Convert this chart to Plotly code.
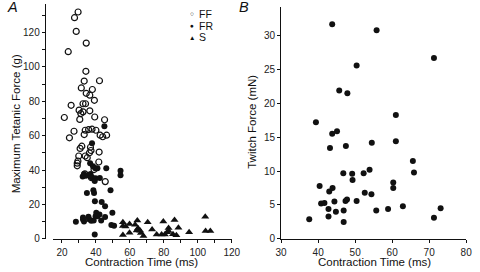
import plotly.graph_objects as go

# Panel A: contraction time (ms) vs maximum tetanic force (g)
ff_ct = [29.5, 27.4, 28.4, 23.7, 34.3, 34.1, 42.1, 33.1, 31.4, 37.9, 34.3, 36.4, 39.1, 25.4,
         32.4, 33.9, 30.1, 32.4, 31.1, 36.4, 21.4, 30.5, 39.3, 45.1, 27.1, 33.7, 35.7, 37.7,
         40.0, 33.1, 42.5, 44.0, 46.3, 24.4, 31.7, 30.7, 36.8, 37.1, 36.2, 41.9, 29.9, 33.7,
         34.9, 29.4, 29.0, 29.0, 41.7, 38.9, 33.5, 37.4, 45.5]
ff_force = [132.0, 128.7, 120.7, 108.9, 113.9, 97.5, 92.0, 91.8, 87.8, 86.9, 84.7, 83.6, 80.6, 77.7,
            78.6, 78.6, 74.9, 73.9, 72.9, 74.5, 70.6, 69.5, 70.9, 69.3, 62.6, 63.2, 63.6, 63.8,
            63.2, 60.7, 60.3, 59.4, 60.3, 58.8, 53.9, 52.6, 53.3, 51.4, 50.1, 50.5, 48.2, 48.2,
            47.2, 45.3, 44.0, 42.5, 44.7, 40.3, 37.8, 35.6, 33.3]

fr_ct = [45.0, 37.7, 36.6, 38.3, 39.6, 40.9, 46.1, 54.5, 54.5, 33.0, 34.1, 32.2, 36.8, 37.5,
         39.8, 39.3, 42.3, 34.7, 38.5, 38.9, 48.6, 39.4, 43.4, 45.4, 49.7, 40.2, 42.1, 28.2,
         32.4, 32.4, 33.0, 35.6, 36.0, 37.2, 38.7, 39.8, 40.8, 43.1, 45.4, 49.1, 50.7, 39.3]
fr_force = [65.5, 55.6, 44.0, 42.3, 41.1, 41.1, 41.1, 39.6, 37.0, 37.7, 36.7, 36.3, 37.7, 35.8,
            35.2, 33.7, 35.4, 26.6, 28.2, 26.6, 28.2, 21.9, 21.5, 19.0, 15.2, 15.2, 14.1, 9.9,
            12.4, 11.2, 10.1, 12.9, 11.4, 10.5, 10.6, 13.1, 13.1, 10.6, 12.7, 8.0, 7.6, 2.5]

s_ct = [55.9, 55.9, 55.9, 57.5, 59.8, 59.8, 63.1, 64.4, 64.8, 64.0, 66.1, 66.5, 68.0, 70.5,
        73.1, 75.8, 78.7, 79.7, 80.6, 81.9, 82.8, 82.8, 86.3, 85.4, 87.4, 88.6, 94.9, 104.4,
        104.6, 107.4]
s_force = [9.7, 7.4, 2.3, 7.2, 8.7, 3.6, 8.2, 10.6, 6.1, 4.9, 4.7, 3.4, 1.7, 9.7,
           5.5, 2.5, 2.5, 10.1, 2.5, 3.8, 6.3, 4.6, 10.9, 2.6, 2.1, 6.5, 3.8, 12.9,
           4.6, 4.6]

# Panel B: contraction time (ms) vs twitch force (mN)
b_ct = [43.8, 55.8, 71.3, 50.4, 45.7, 47.9, 39.4, 61.0, 45.1, 43.8, 43.2, 47.5, 54.5, 61.0,
        65.6, 65.9, 53.9, 52.3, 49.2, 49.3, 46.8, 60.3, 60.3, 40.4, 43.9, 43.0, 52.6, 54.4,
        40.8, 41.7, 44.4, 47.4, 47.8, 50.4, 42.8, 44.8, 46.9, 55.7, 58.9, 62.9, 42.8, 37.6,
        46.9, 71.3, 73.1]
b_force = [31.7, 30.8, 26.7, 25.6, 21.9, 21.5, 17.2, 18.3, 15.9, 15.5, 13.4, 13.7, 14.2, 14.4,
           11.5, 9.8, 10.2, 9.7, 9.6, 8.7, 9.7, 8.3, 7.5, 7.8, 7.5, 7.0, 6.8, 6.6,
           5.2, 5.3, 5.5, 5.6, 5.8, 5.6, 4.4, 4.0, 4.2, 4.2, 4.4, 4.8, 3.3, 2.9,
           2.5, 3.1, 4.5]

legend_labels = ["FF", "FR", "S"]
legend_symbols = ["○", "●", "▲"]

FONT = "Liberation Sans, Arial, sans-serif"
INK = "#111111"

fig = go.Figure()
fig.add_trace(go.Scatter(x=ff_ct, y=ff_force, mode="markers", name="FF",
                         marker=dict(symbol="circle-open", size=6, color=INK, line=dict(width=1.2, color=INK)),
                         xaxis="x", yaxis="y"))
fig.add_trace(go.Scatter(x=fr_ct, y=fr_force, mode="markers", name="FR",
                         marker=dict(symbol="circle", size=6, color=INK),
                         xaxis="x", yaxis="y"))
fig.add_trace(go.Scatter(x=s_ct, y=s_force, mode="markers", name="S",
                         marker=dict(symbol="triangle-up", size=7, color=INK),
                         xaxis="x", yaxis="y"))
fig.add_trace(go.Scatter(x=b_ct, y=b_force, mode="markers", name="Twitch",
                         marker=dict(symbol="circle", size=6, color=INK),
                         xaxis="x2", yaxis="y2"))

axis_common = dict(showline=True, linecolor=INK, linewidth=1, ticks="outside", ticklen=3,
                   tickcolor=INK, showgrid=False, zeroline=False,
                   tickfont=dict(family=FONT, size=10, color="#222222"))

fig.update_layout(
    width=480, height=272,
    margin=dict(l=0, r=0, t=0, b=0),
    paper_bgcolor="white", plot_bgcolor="white",
    showlegend=False,
    font=dict(family=FONT, color=INK),
    xaxis=dict(domain=[49/480, 233/480], range=[15, 120], anchor="y",
               tickvals=[20, 40, 60, 80, 100, 120], ticklabelstandoff=1,
               minor=dict(dtick=10, tick0=0, ticks="outside", ticklen=3, tickcolor=INK),
               **axis_common),
    yaxis=dict(domain=[28.7/272, 268/272], range=[0, 136.7], anchor="free", position=40/480,
               tickvals=[0, 20, 40, 60, 80, 100, 120],
               minor=dict(dtick=10, tick0=0, ticks="outside", ticklen=3, tickcolor=INK),
               **axis_common),
    xaxis2=dict(domain=[284/480, 475/480], range=[30, 80], anchor="y2",
                tickvals=[30, 40, 50, 60, 70, 80], ticklabelstandoff=1, **axis_common),
    yaxis2=dict(domain=[28.7/272, 265/272], range=[0, 34.25], anchor="x2",
                tickvals=[0, 5, 10, 15, 20, 25, 30], **axis_common),
)

ann = []
def txt(x, y, s, size=12, angle=0, xanchor="center", italic=False):
    ann.append(dict(x=x/480, y=1 - y/272, xref="paper", yref="paper", text=s,
                    showarrow=False, textangle=angle, xanchor=xanchor, yanchor="middle",
                    borderpad=0,
                    font=dict(family=FONT, size=size, color=INK,
                              style="italic" if italic else "normal")))

txt(6.5, 7, "A", size=14.5, italic=True)
txt(246, 7, "B", size=14.5, italic=True)
txt(140, 267, "Contraction Time (ms)", size=11.5)
txt(380, 267, "Contraction Time (ms)", size=11.5)
txt(10, 126, "Maximum Tetanic Force (g)", size=11.5, angle=-90)
txt(254, 124, "Twitch Force (mN)", size=11.5, angle=-90)
for i, (sym, lab) in enumerate(zip(legend_symbols, legend_labels)):
    yy = 14 + 12 * i
    txt(192, yy, sym, size=6.5)
    txt(198.5, yy, lab, size=10.5, xanchor="left")
fig.update_layout(annotations=ann)

fig.write_html("out.html", config={"displayModeBar": False},
               post_script="document.body.style.margin='0';document.body.style.overflow='hidden';")
